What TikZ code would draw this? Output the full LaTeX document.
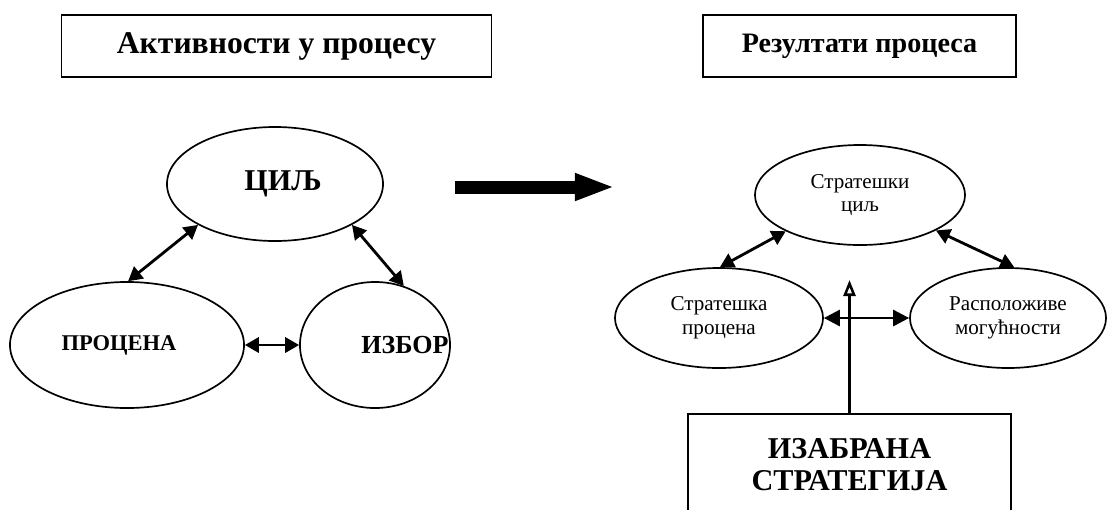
\documentclass[tikz,border=0pt]{standalone}
\usepackage{fontspec}
\setmainfont{Liberation Serif}
\usetikzlibrary{arrows.meta,shapes.geometric}

\tikzset{
  naslov/.style={draw,line width=1.3pt,minimum height=1.55cm,inner sep=0pt},
  krug/.style={draw,ellipse,line width=1.2pt,inner sep=0pt,align=center},
  veza/.style={line width=2pt,{Triangle[length=3.5mm,width=3.8mm]}-{Triangle[length=3.5mm,width=3.8mm]}},
}

\begin{document}
\begin{tikzpicture}[x=0.025cm,y=-0.025cm]
  \useasboundingbox (0,0) rectangle (1109,509);

  % naslovi
  \node[naslov,minimum width=10.75cm,font=\fontsize{22.5}{24}\selectfont\bfseries]
       (aktivnosti) at (276.5,46) {Активности у процесу};
  \node[naslov,minimum width=7.825cm,font=\fontsize{20}{22}\selectfont\bfseries]
       (rezultati) at (859.5,46) {Резултати процеса};

  % leva strana -- aktivnosti
  \node[krug,minimum width=5.4cm,minimum height=2.85cm,
        font=\fontsize{21.5}{24}\selectfont\bfseries] (cilj) at (275,184) {\hspace*{0.4cm}ЦИЉ};
  \node[krug,minimum width=5.85cm,minimum height=3.15cm,
        font=\fontsize{16}{18}\selectfont\bfseries] (procena) at (127,345) {ПРОЦЕНА\hspace*{0.4cm}};
  \node[krug,minimum width=3.75cm,minimum height=3.15cm,
        label={[xshift=0.75cm,font=\fontsize{18.5}{20}\selectfont\bfseries]center:ИЗБОР}] (izbor) at (375,345) {};

  \draw[veza] (cilj.208) -- (procena.89);
  \draw[veza] (cilj.332) -- (izbor.64);
  \draw[veza] (procena.east) -- (izbor.west);

  % velika strelica
  \coordinate (odavde) at (455,187);
  \coordinate (dovde) at (615,187);
  \draw[line width=0.325cm,-{Triangle[length=1cm,width=0.62cm]}] (odavde) -- (dovde);

  % desna strana -- rezultati
  \node[krug,minimum width=5.25cm,minimum height=2.5cm,
        font=\fontsize{15}{17}\selectfont] (stratcilj) at (860,195) {Стратешки\\циљ};
  \node[krug,minimum width=5.2cm,minimum height=2.5cm,
        font=\fontsize{15}{17}\selectfont] (stratproc) at (719,318) {Стратешка\\процена};
  \node[krug,minimum width=4.9cm,minimum height=2.5cm,
        font=\fontsize{15}{17}\selectfont] (moguc) at (1008,318) {Расположиве\\могућности};

  \draw[veza] (stratcilj.206) -- (stratproc.89);
  \draw[veza] (stratcilj.335) -- (moguc.83);
  \draw[veza,{Triangle[length=4mm,width=4mm]}-{Triangle[length=4mm,width=4mm]}] (stratproc.east) -- (moguc.west);

  % izabrana strategija
  \node[draw,line width=1.3pt,anchor=north,minimum width=8.075cm,minimum height=2.55cm,
        align=center,font=\fontsize{21.5}{22.5}\selectfont\bfseries] (strategija) at (849.5,413)
        {ИЗАБРАНА\\СТРАТЕГИЈА};
  \coordinate (vrh) at (849.5,280);
  \draw[line width=1.8pt,-{Triangle[open,length=4mm,width=3mm]}] (strategija.north) -- (vrh);
\end{tikzpicture}
\end{document}
